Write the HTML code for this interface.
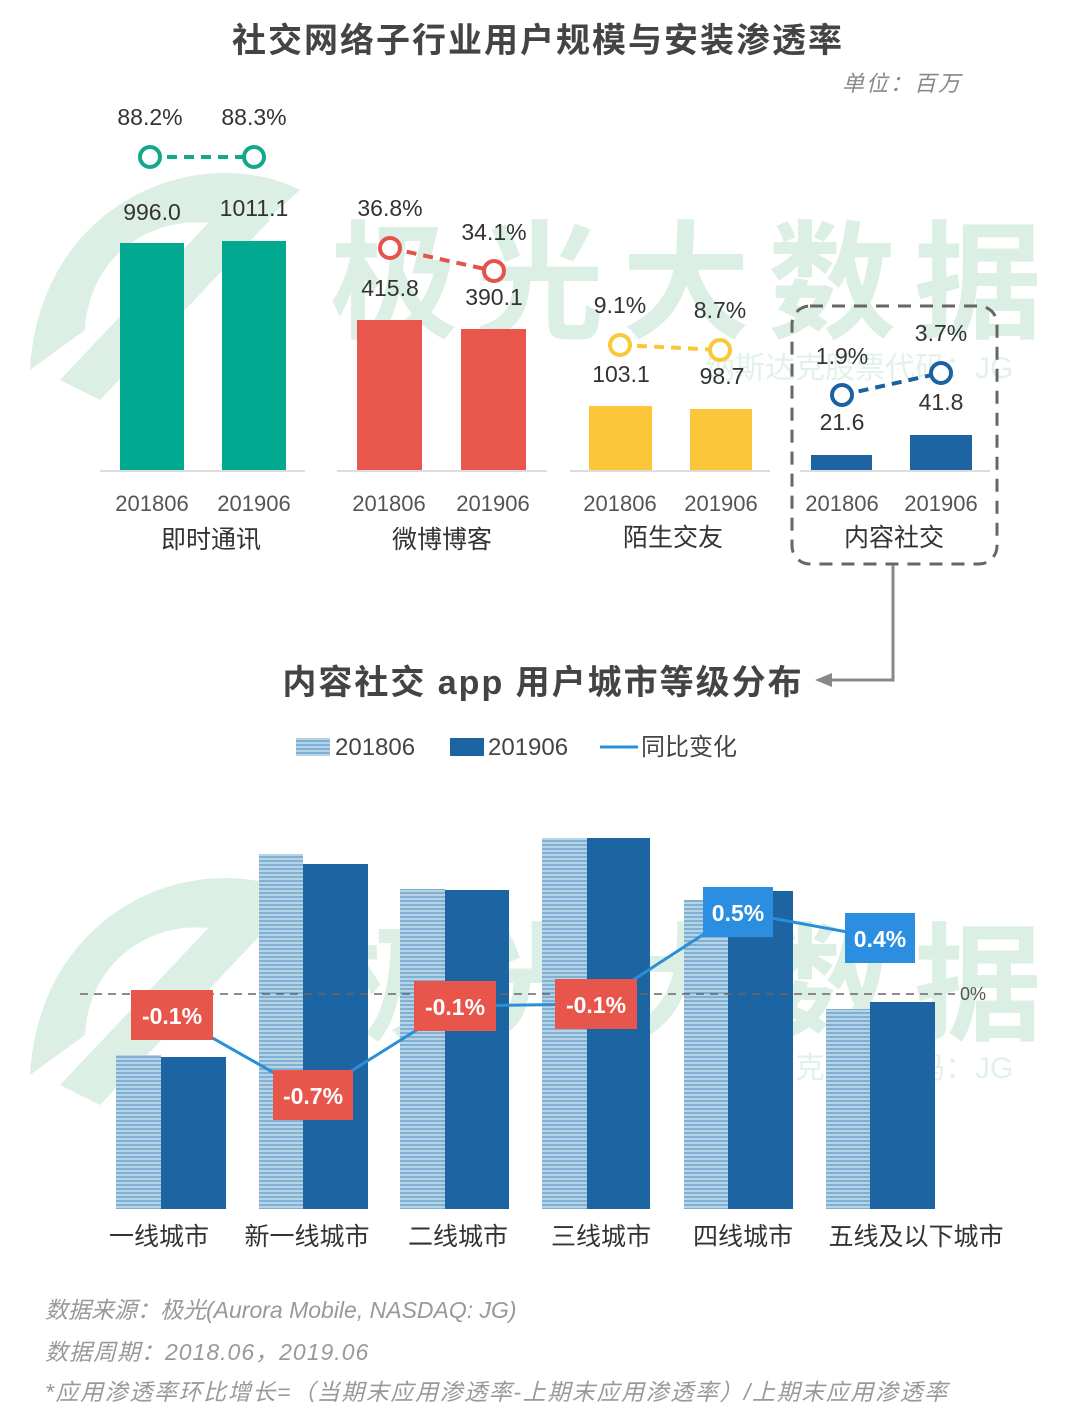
<!DOCTYPE html>
<html><head><meta charset="utf-8">
<style>
html,body{margin:0;padding:0;background:#fff;}
svg{display:block;}
text{font-family:"Liberation Sans","Noto Sans CJK SC",sans-serif;}
</style></head>
<body>
<svg width="1080" height="1424" viewBox="0 0 1080 1424" xmlns="http://www.w3.org/2000/svg">
<defs>
<pattern id="st" width="4" height="4" patternUnits="userSpaceOnUse">
<rect width="4" height="4" fill="#b7d3e6"/><rect width="4" height="2" fill="#7fb0d3"/>
</pattern>
</defs>
<g fill="#dcefe4">
<path d="M30 370 C 40 200, 200 140, 300 190 L 250 235 C 180 200, 90 240, 85 330 Z"/>
<path d="M60 380 L 230 200 L 270 220 L 100 400 Z"/>
<path d="M30 1075 C 40 905, 200 845, 300 895 L 250 940 C 180 905, 90 945, 85 1035 Z"/>
<path d="M60 1085 L 230 905 L 270 925 L 100 1105 Z"/>
<text x="330" y="328" font-size="128" font-weight="bold" letter-spacing="18">极光大数据</text>
<text x="330" y="1030" font-size="128" font-weight="bold" letter-spacing="18">极光大数据</text>
<text x="705" y="378" font-size="30" fill="#e2f2e8">纳斯达克股票代码：JG</text>
<text x="705" y="1078" font-size="30" fill="#e2f2e8">纳斯达克股票代码：JG</text>
</g>
<text x="538" y="52" font-size="34" font-weight="bold" text-anchor="middle" fill="#444" letter-spacing="2">社交网络子行业用户规模与安装渗透率</text>
<text x="962" y="91" font-size="22" font-style="italic" text-anchor="end" fill="#888" letter-spacing="2">单位：百万</text>
<g stroke="#ddd" stroke-width="2">
<line x1="100" y1="471" x2="305" y2="471"/><line x1="337" y1="471" x2="547" y2="471"/>
<line x1="570" y1="471" x2="770" y2="471"/><line x1="800" y1="471" x2="990" y2="471"/>
</g>
<rect x="120" y="243" width="64" height="227" fill="#00a98f"/>
<rect x="222" y="241" width="64" height="229" fill="#00a98f"/>
<rect x="357" y="320" width="65" height="150" fill="#e9574c"/>
<rect x="461" y="329" width="65" height="141" fill="#e9574c"/>
<rect x="589" y="406" width="63" height="64" fill="#fcc63b"/>
<rect x="690" y="409" width="62" height="61" fill="#fcc63b"/>
<rect x="811" y="455" width="61" height="15" fill="#1c65a2"/>
<rect x="910" y="435" width="62" height="35" fill="#1c65a2"/>
<g fill="none" stroke-width="4">
<line x1="150" y1="157" x2="254" y2="157" stroke="#14a88b" stroke-dasharray="10,7"/>
<circle cx="150" cy="157" r="10" stroke="#14a88b" fill="#fff"/><circle cx="254" cy="157" r="10" stroke="#14a88b" fill="#fff"/>
<line x1="390" y1="248" x2="494" y2="271" stroke="#e5534b" stroke-dasharray="10,7"/>
<circle cx="390" cy="248" r="10" stroke="#e5534b" fill="#fff"/><circle cx="494" cy="271" r="10" stroke="#e5534b" fill="#fff"/>
<line x1="620" y1="345" x2="720" y2="350" stroke="#fbc73a" stroke-dasharray="10,7"/>
<circle cx="620" cy="345" r="10" stroke="#fbc73a" fill="#fff"/><circle cx="720" cy="350" r="10" stroke="#fbc73a" fill="#fff"/>
<line x1="842" y1="395" x2="941" y2="373" stroke="#1a62a0" stroke-dasharray="10,7"/>
<circle cx="842" cy="395" r="10" stroke="#1a62a0" fill="#fff"/><circle cx="941" cy="373" r="10" stroke="#1a62a0" fill="#fff"/>
</g>
<g font-size="23" fill="#333" text-anchor="middle" font-family="Liberation Serif,serif">
<text x="150" y="125">88.2%</text><text x="254" y="125">88.3%</text>
<text x="152" y="220">996.0</text><text x="254" y="216">1011.1</text>
<text x="390" y="216">36.8%</text><text x="494" y="240">34.1%</text>
<text x="390" y="296">415.8</text><text x="494" y="305">390.1</text>
<text x="620" y="313">9.1%</text><text x="720" y="318">8.7%</text>
<text x="621" y="382">103.1</text><text x="722" y="384">98.7</text>
<text x="842" y="364">1.9%</text><text x="941" y="341">3.7%</text>
<text x="842" y="430">21.6</text><text x="941" y="410">41.8</text>
</g>
<g font-size="22" fill="#555" text-anchor="middle">
<text x="152" y="511">201806</text><text x="254" y="511">201906</text>
<text x="389" y="511">201806</text><text x="493" y="511">201906</text>
<text x="620" y="511">201806</text><text x="721" y="511">201906</text>
<text x="842" y="511">201806</text><text x="941" y="511">201906</text>
</g>
<g font-size="25" fill="#333" text-anchor="middle">
<text x="211" y="548">即时通讯</text><text x="442" y="548">微博博客</text>
<text x="673" y="546">陌生交友</text><text x="894" y="546">内容社交</text>
</g>
<rect x="792" y="306" width="205" height="258" rx="18" fill="none" stroke="#666" stroke-width="3" stroke-dasharray="13,9"/>
<polyline points="893,565 893,680 830,680" fill="none" stroke="#888" stroke-width="3"/>
<polygon points="815,680 832,673 832,687" fill="#888"/>
<text x="543" y="694" font-size="34" font-weight="bold" text-anchor="middle" fill="#444" letter-spacing="2">内容社交 app 用户城市等级分布</text>
<rect x="296" y="738" width="34" height="18" fill="url(#st)"/>
<text x="335" y="755" font-size="24" fill="#444">201806</text>
<rect x="450" y="738" width="34" height="18" fill="#1c65a2"/>
<text x="488" y="755" font-size="24" fill="#444">201906</text>
<line x1="600" y1="747" x2="638" y2="747" stroke="#2a8fd8" stroke-width="3"/>
<text x="641" y="755" font-size="24" fill="#444">同比变化</text>
<rect x="116" y="1055" width="45" height="154" fill="url(#st)"/><rect x="161" y="1057" width="65" height="152" fill="#1c65a2"/>
<rect x="259" y="854" width="44" height="355" fill="url(#st)"/><rect x="303" y="864" width="65" height="345" fill="#1c65a2"/>
<rect x="400" y="889" width="45" height="320" fill="url(#st)"/><rect x="445" y="890" width="64" height="319" fill="#1c65a2"/>
<rect x="542" y="838" width="45" height="371" fill="url(#st)"/><rect x="587" y="838" width="63" height="371" fill="#1c65a2"/>
<rect x="684" y="900" width="44" height="309" fill="url(#st)"/><rect x="728" y="891" width="65" height="318" fill="#1c65a2"/>
<rect x="826" y="1009" width="44" height="200" fill="url(#st)"/><rect x="870" y="1002" width="65" height="207" fill="#1c65a2"/>
<line x1="80" y1="994" x2="955" y2="994" stroke="#666" stroke-width="1.5" stroke-dasharray="8,6"/>
<text x="960" y="1000" font-size="18" fill="#555">0%</text>
<polyline points="172,1015 313,1095 455,1006 596,1004 738,912 880,938" fill="none" stroke="#2a8fd8" stroke-width="3"/>
<g font-size="23" font-weight="bold" fill="#fff" text-anchor="middle">
<rect x="131" y="990" width="82" height="50" fill="#e8554b"/><text x="172" y="1024">-0.1%</text>
<rect x="273" y="1070" width="80" height="50" fill="#e8554b"/><text x="313" y="1104">-0.7%</text>
<rect x="414" y="981" width="82" height="50" fill="#e8554b"/><text x="455" y="1015">-0.1%</text>
<rect x="555" y="979" width="82" height="50" fill="#e8554b"/><text x="596" y="1013">-0.1%</text>
<rect x="703" y="887" width="70" height="50" fill="#2b8ee0"/><text x="738" y="921">0.5%</text>
<rect x="845" y="913" width="70" height="50" fill="#2b8ee0"/><text x="880" y="947">0.4%</text>
</g>
<g font-size="25" fill="#333" text-anchor="middle">
<text x="159" y="1245">一线城市</text><text x="307" y="1245">新一线城市</text>
<text x="458" y="1245">二线城市</text><text x="601" y="1245">三线城市</text>
<text x="743" y="1245">四线城市</text><text x="916" y="1245">五线及以下城市</text>
</g>
<g font-size="23" font-style="italic" fill="#999">
<text x="45" y="1318">数据来源：极光(Aurora Mobile, NASDAQ: JG)</text>
<text x="45" y="1360" letter-spacing="1">数据周期：2018.06，2019.06</text>
<text x="45" y="1400" letter-spacing="1.6">*应用渗透率环比增长=（当期末应用渗透率-上期末应用渗透率）/上期末应用渗透率</text>
</g>
</svg>
</body></html>
